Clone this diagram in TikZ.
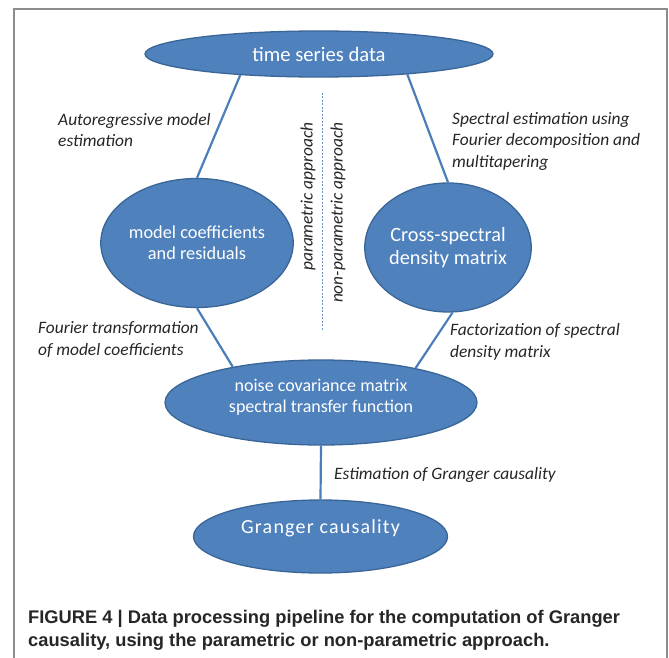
\documentclass[tikz,border=0pt]{standalone}
\usepackage{fontspec}
\setmainfont{Carlito}
\newfontfamily\capfont{Liberation Sans}
\usetikzlibrary{shapes.geometric}
\definecolor{boxblue}{HTML}{4F81BD}
\definecolor{rimblue}{HTML}{3A6597}
\definecolor{linkblue}{HTML}{4A7EBB}
\tikzset{
  blob/.style={ellipse, fill=boxblue, draw=rimblue, line width=1.3pt, inner sep=0pt, text=white, align=center},
  link/.style={draw=linkblue, line width=2.2pt},
  note/.style={font=\fontsize{17.4}{21.5}\selectfont\itshape, text=black!85, align=left, inner sep=0pt, anchor=west}
}

\begin{document}
\begin{tikzpicture}[x=1pt, y=-1pt]
\useasboundingbox[fill=white] (0,0) rectangle (669,658);
\draw[black!45, line width=1.4pt] (14,670) -- (14,9) -- (667,9) -- (667,670);

\node[blob, minimum width=348pt, minimum height=46pt, font=\fontsize{20.6}{24}\selectfont] (tsd) at (319,54) {time series data};
\node[blob, minimum width=151pt, minimum height=129pt, font=\fontsize{18.3}{21}\selectfont] (coef) at (197,243) {model coefficients\\and residuals};
\node[blob, minimum width=150pt, minimum height=129pt, font=\fontsize{20.3}{23}\selectfont] (csd) at (448,247.5) {Cross-spectral\\density matrix};
\node[blob, minimum width=312pt, minimum height=85pt, text depth=14pt, font=\fontsize{18}{21}\selectfont] (ncm) at (321,402.5) {noise covariance matrix\\spectral transfer function};
\node[blob, minimum width=254pt, minimum height=73pt, text depth=20pt, font=\fontsize{20}{23}\selectfont\addfontfeature{LetterSpace=6}] (gc) at (320.5,536.5) {Granger causality};

\draw[link] (tsd.195.7) -- (coef.90);
\draw[link] (tsd.347.5) -- (csd.90);
\draw[link] (coef.270) -- (ncm.158.3);
\draw[link] (csd.274) -- (ncm.20.4);
\draw[link] (ncm.south) -- (gc.north);

\coordinate (divtop) at (322,93);
\coordinate (divbot) at (322,330);
\draw[linkblue!85, line width=0.7pt, dash pattern=on 2pt off 1.5pt] (divtop) -- (divbot);

\node[note, rotate=90, anchor=east] (par) at (308,122) {parametric approach};
\node[note, rotate=90, anchor=east] (nonpar) at (338,122) {non-parametric approach};

\node[note] (arlbl) at (58,130) {Autoregressive model\\estimation};
\node[note] (speclbl) at (452,141) {Spectral estimation using\\Fourier decomposition and\\multitapering};
\node[note] (fourlbl) at (38,339.5) {Fourier transformation\\of model coefficients};
\node[note] (factlbl) at (450,342) {Factorization of spectral\\density matrix};
\node[note] (gclbl) at (334,475) {Estimation of Granger causality};

\node[anchor=north west, align=left, inner sep=0pt, text=black!85, font=\capfont\bfseries\fontsize{18.3}{23}\selectfont] (cap) at (28,610) {FIGURE 4 | Data processing pipeline for the computation of Granger\\causality, using the parametric or non-parametric approach.};
\end{tikzpicture}
\end{document}
